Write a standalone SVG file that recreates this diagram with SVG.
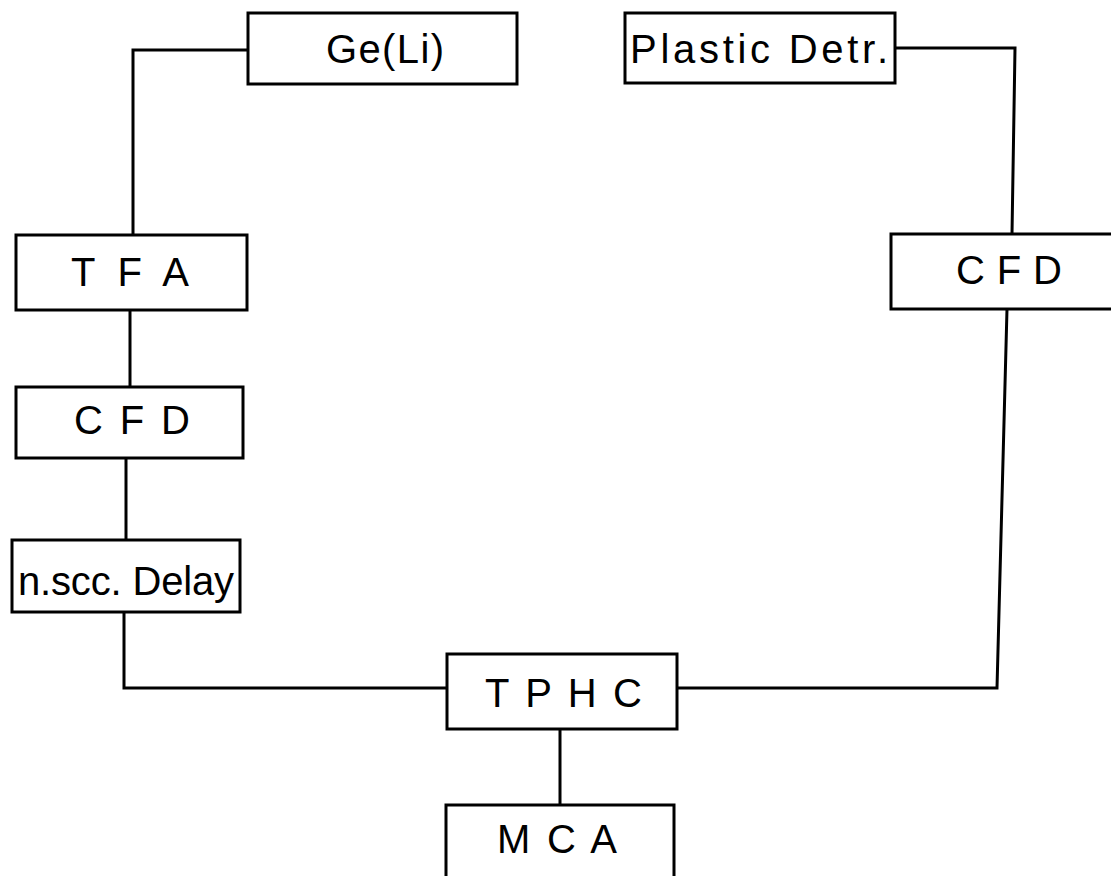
<svg xmlns="http://www.w3.org/2000/svg" width="1111" height="876" viewBox="0 0 1111 876">
<style>
.box{fill:#fff;stroke:#000;stroke-width:3}
.ln{fill:none;stroke:#000;stroke-width:3}
text{font-family:"Liberation Sans",Arial,sans-serif;font-size:40px;fill:#000}
</style>
<rect width="1111" height="876" fill="#fff"/>
<g id="connectors">
<polyline class="ln" points="248,50 133,50 133,235"/>
<polyline class="ln" points="895,48 1015,48 1012,234"/>
<line class="ln" x1="130" y1="310" x2="130" y2="387"/>
<line class="ln" x1="126" y1="458" x2="126" y2="540"/>
<polyline class="ln" points="124,610 124,688 447,688"/>
<polyline class="ln" points="677,688 997,688 1007,309"/>
<line class="ln" x1="560" y1="729" x2="560" y2="805"/>
</g>
<g id="geli"><rect class="box" x="248" y="13" width="269" height="71"/><text x="326" y="63" textLength="118" lengthAdjust="spacing">Ge(Li)</text></g>
<g id="plastic"><rect class="box" x="625" y="13" width="270" height="70"/><text x="630" y="63" textLength="258" lengthAdjust="spacing">Plastic Detr.</text></g>
<g id="tfa"><rect class="box" x="16" y="235" width="231" height="75"/><text x="71" y="286" textLength="118" lengthAdjust="spacing">T F A</text></g>
<g id="cfd1"><rect class="box" x="16" y="387" width="227" height="71"/><text x="74" y="434" textLength="116" lengthAdjust="spacing">C F D</text></g>
<g id="delay"><rect class="box" x="12" y="540" width="228" height="72"/><text x="18" y="595" textLength="216" lengthAdjust="spacing">n.scc. Delay</text></g>
<g id="cfd2"><rect class="box" x="891" y="234" width="230" height="75"/><text x="956" y="284" textLength="106" lengthAdjust="spacing">C F D</text></g>
<g id="tphc"><rect class="box" x="447" y="654" width="230" height="75"/><text x="485" y="707" textLength="157" lengthAdjust="spacing">T P H C</text></g>
<g id="mca"><rect class="box" x="446" y="805" width="228" height="90"/><text x="497" y="853" textLength="120" lengthAdjust="spacing">M C A</text></g>
</svg>
